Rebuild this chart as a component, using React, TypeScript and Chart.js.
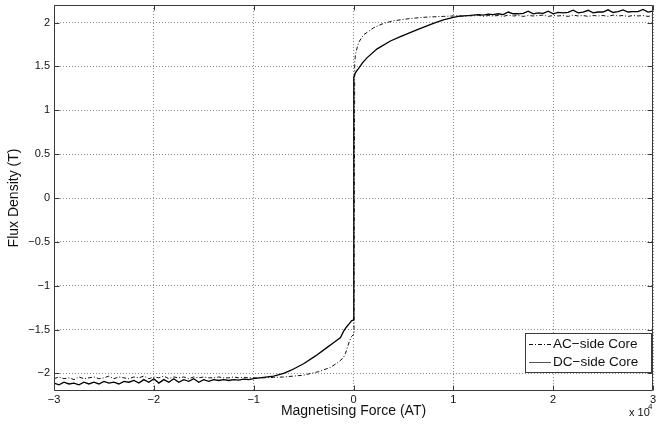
import React, { useEffect, useRef } from "react";
import { Chart, registerables } from "chart.js";

Chart.register(...registerables);

const FONT = '"Liberation Sans", Arial, Helvetica, sans-serif';

// Axis ticks
const xTickValues = [-30000, -20000, -10000, 0, 10000, 20000, 30000];
const xTickLabels = ["−3", "−2", "−1", "0", "1", "2", "3"];
const yTickValues = [-2, -1.5, -1, -0.5, 0, 0.5, 1, 1.5, 2];
const yTickLabels = ["−2", "−1.5", "−1", "−0.5", "0", "0.5", "1", "1.5", "2"];

// Magnetising force samples (AT) on the saturated plateaus
const plateauLeftH = [
  -30000, -29500, -29000, -28500, -28000, -27500, -27000, -26500, -26000, -25500,
  -25000, -24500, -24000, -23500, -23000, -22500, -22000, -21500, -21000, -20500,
  -20000, -19500, -19000, -18500, -18000, -17500, -17000, -16500, -16000, -15500,
  -15000, -14500, -14000, -13500, -13000, -12500, -12000, -11500, -11000, -10500, -10000,
];
const plateauRightH = [
  10500, 11000, 11500, 12000, 12500, 13000, 13500, 14000, 14500, 15000,
  15500, 16000, 16500, 17000, 17500, 18000, 18500, 19000, 19500, 20000,
  20500, 21000, 21500, 22000, 22500, 23000, 23500, 24000, 24500, 25000,
  25500, 26000, 26500, 27000, 27500, 28000, 28500, 29000, 29500, 30000,
];

// AC-side core
const acLeftB = [
  -2.06, -2.04, -2.06, -2.05, -2.07, -2.04, -2.06, -2.05, -2.04, -2.06,
  -2.05, -2.03, -2.06, -2.04, -2.05, -2.06, -2.04, -2.05, -2.03, -2.06,
  -2.04, -2.05, -2.03, -2.06, -2.04, -2.05, -2.04, -2.06, -2.04, -2.05,
  -2.04, -2.05, -2.05, -2.04, -2.05, -2.05, -2.04, -2.05, -2.045, -2.05, -2.05,
];
const acMidH = [
  -9000, -8000, -7000, -6000, -5000, -4300, -3500, -3000, -2300, -1500,
  -1000, -800, -600, -400, -200, 50, 120, 200, 500, 1000,
  1400, 2000, 3000, 4000, 5700, 7000, 9000, 10000,
];
const acMidB = [
  -2.05, -2.045, -2.04, -2.03, -2.02, -2.0, -1.98, -1.96, -1.93, -1.87,
  -1.82, -1.77, -1.7, -1.63, -1.58, -1.55, 1.55, 1.64, 1.77, 1.86,
  1.89, 1.94, 1.99, 2.02, 2.046, 2.06, 2.07, 2.075,
];
const acRightB = [
  2.08, 2.07, 2.08, 2.075, 2.085, 2.07, 2.08, 2.075, 2.08, 2.07,
  2.085, 2.075, 2.08, 2.07, 2.08, 2.075, 2.08, 2.085, 2.07, 2.08,
  2.075, 2.08, 2.07, 2.085, 2.075, 2.08, 2.07, 2.08, 2.075, 2.08,
  2.07, 2.085, 2.075, 2.08, 2.07, 2.08, 2.075, 2.08, 2.07, 2.08,
];

// DC-side core
const dcLeftB = [
  -2.11, -2.13, -2.1, -2.12, -2.11, -2.13, -2.1, -2.12, -2.1, -2.12,
  -2.09, -2.11, -2.1, -2.12, -2.09, -2.1, -2.08, -2.11, -2.07, -2.1,
  -2.06, -2.11, -2.07, -2.1, -2.06, -2.1, -2.07, -2.09, -2.06, -2.1,
  -2.07, -2.09, -2.07, -2.08, -2.07, -2.08, -2.07, -2.075, -2.065, -2.07, -2.06,
];
const dcMidH = [
  -9000, -8000, -7000, -6300, -5000, -3800, -2600, -2000, -1300, -1000,
  -700, -400, -200, 0, 30, 200, 530, 900, 1370, 2370,
  3700, 4700, 6400, 8000, 9000, 10000,
];
const dcMidB = [
  -2.045, -2.03, -2.0, -1.966, -1.89, -1.8, -1.7, -1.65, -1.59, -1.52,
  -1.47, -1.43, -1.4, -1.39, 1.38, 1.43, 1.48, 1.54, 1.6, 1.7,
  1.79, 1.84, 1.92, 1.99, 2.03, 2.06,
];
const dcRightB = [
  2.07, 2.075, 2.08, 2.085, 2.09, 2.085, 2.095, 2.09, 2.1, 2.09,
  2.12, 2.1, 2.1, 2.105, 2.13, 2.1, 2.11, 2.105, 2.13, 2.1,
  2.115, 2.11, 2.115, 2.14, 2.11, 2.12, 2.14, 2.11, 2.12, 2.12,
  2.145, 2.115, 2.125, 2.145, 2.12, 2.125, 2.125, 2.15, 2.12, 2.13,
];

const seriesNames = ["AC−side Core", "DC−side Core"];
const AC_DASH = [4, 2, 1, 2];

function toPoints(h: number[], b: number[]) {
  return h.map((v, i) => ({ x: v, y: b[i] }));
}

const framePlugin = {
  id: "matlabFrame",
  afterDraw(chart: any) {
    const { ctx, chartArea: a, scales } = chart;
    const xs = scales.x;
    const ys = scales.y;
    ctx.save();
    ctx.strokeStyle = "#3a3a3a";
    ctx.lineWidth = 1;
    const L = Math.round(a.left) + 0.5;
    const R = Math.round(a.right) - 0.5;
    const T = Math.round(a.top) + 0.5;
    const B = Math.round(a.bottom) - 0.5;
    ctx.beginPath();
    ctx.rect(L, T, R - L, B - T);
    ctx.stroke();
    const tl = 5;
    ctx.beginPath();
    xTickValues.forEach((v) => {
      const px = Math.round(xs.getPixelForValue(v)) + 0.5;
      ctx.moveTo(px, B);
      ctx.lineTo(px, B - tl);
      ctx.moveTo(px, T);
      ctx.lineTo(px, T + tl);
    });
    yTickValues.forEach((v) => {
      const py = Math.round(ys.getPixelForValue(v)) + 0.5;
      ctx.moveTo(L, py);
      ctx.lineTo(L + tl, py);
      ctx.moveTo(R, py);
      ctx.lineTo(R - tl, py);
    });
    ctx.stroke();

    // exponent label
    ctx.fillStyle = "#111";
    ctx.textBaseline = "middle";
    ctx.textAlign = "left";
    ctx.font = `11px ${FONT}`;
    ctx.fillText("x 10", 629, 413);
    ctx.font = `8px ${FONT}`;
    ctx.fillText("4", 648, 407);

    // legend
    const bx = 525.5, by = 333.5, bw = 126, bh = 39;
    ctx.fillStyle = "#fff";
    ctx.fillRect(bx, by, bw, bh);
    ctx.strokeStyle = "#3a3a3a";
    ctx.strokeRect(bx, by, bw, bh);
    ctx.strokeStyle = "#111";
    ctx.lineWidth = 1;
    ctx.setLineDash(AC_DASH);
    ctx.beginPath();
    ctx.moveTo(529, 344.5);
    ctx.lineTo(551, 344.5);
    ctx.stroke();
    ctx.setLineDash([]);
    ctx.strokeStyle = "#555";
    ctx.beginPath();
    ctx.moveTo(529, 362.5);
    ctx.lineTo(551, 362.5);
    ctx.stroke();
    ctx.fillStyle = "#111";
    ctx.font = `13.5px ${FONT}`;
    ctx.fillText(seriesNames[0], 553, 344.5);
    ctx.fillText(seriesNames[1], 553, 362.5);
    ctx.restore();
  },
};

export default function App() {
  const ref = useRef<HTMLCanvasElement | null>(null);
  useEffect(() => {
    if (!ref.current) return;
    Chart.defaults.font.family = FONT;
    const acH = [...plateauLeftH, ...acMidH, ...plateauRightH];
    const acB = [...acLeftB, ...acMidB, ...acRightB];
    const dcH = [...plateauLeftH, ...dcMidH, ...plateauRightH];
    const dcB = [...dcLeftB, ...dcMidB, ...dcRightB];
    const chart = new Chart(ref.current, {
      type: "scatter",
      data: {
        datasets: [
          {
            label: seriesNames[0],
            data: toPoints(acH, acB),
            showLine: true,
            borderColor: "#111",
            borderWidth: 1,
            borderDash: AC_DASH,
            pointRadius: 0,
            fill: false,
            tension: 0,
          },
          {
            label: seriesNames[1],
            data: toPoints(dcH, dcB),
            showLine: true,
            borderColor: "#000",
            borderWidth: 1.3,
            pointRadius: 0,
            fill: false,
            tension: 0,
          },
        ],
      },
      options: {
        animation: false,
        responsive: false,
        devicePixelRatio: 1,
        layout: { padding: { top: 5, right: 9, left: 0, bottom: 0 } },
        plugins: {
          legend: { display: false },
          tooltip: { enabled: false },
        },
        scales: {
          x: {
            type: "linear",
            min: -30000,
            max: 30000,
            afterBuildTicks: (s: any) => {
              s.ticks = xTickValues.map((v) => ({ value: v }));
            },
            afterFit: (s: any) => {
              s.height = 33;
              s.paddingLeft = 0;
              s.paddingRight = 0;
            },
            ticks: {
              callback: (_v: any, i: number) => xTickLabels[i],
              color: "#111",
              font: { size: 11 },
              padding: 2,
              maxRotation: 0,
              autoSkip: false,
            },
            grid: { color: "#8c8c8c", drawTicks: false, lineWidth: 1 },
            border: { display: false, dash: [1, 2] },
            title: {
              display: true,
              text: "Magnetising Force (AT)",
              color: "#111",
              font: { size: 14 },
              padding: { top: 0, bottom: 4.6 },
            },
          },
          y: {
            type: "linear",
            min: -2.2,
            max: 2.2,
            afterBuildTicks: (s: any) => {
              s.ticks = yTickValues.map((v) => ({ value: v }));
            },
            afterFit: (s: any) => {
              s.width = 54;
              s.paddingTop = 0;
              s.paddingBottom = 0;
            },
            ticks: {
              callback: (_v: any, i: number) => yTickLabels[i],
              color: "#111",
              font: { size: 11 },
              padding: 4,
              autoSkip: false,
            },
            grid: { color: "#8c8c8c", drawTicks: false, lineWidth: 1 },
            border: { display: false, dash: [1, 2] },
            title: {
              display: true,
              text: "Flux Density (T)",
              color: "#111",
              font: { size: 14 },
              padding: { top: 5.6, bottom: 0 },
            },
          },
        },
      } as any,
      plugins: [framePlugin],
    });
    return () => chart.destroy();
  }, []);

  return (
    <div style={{ position: "absolute", left: 0, top: 0, width: 662, height: 424, background: "#fff" }}>
      <canvas ref={ref} width={662} height={424} style={{ display: "block", width: 662, height: 424 }} />
    </div>
  );
}
